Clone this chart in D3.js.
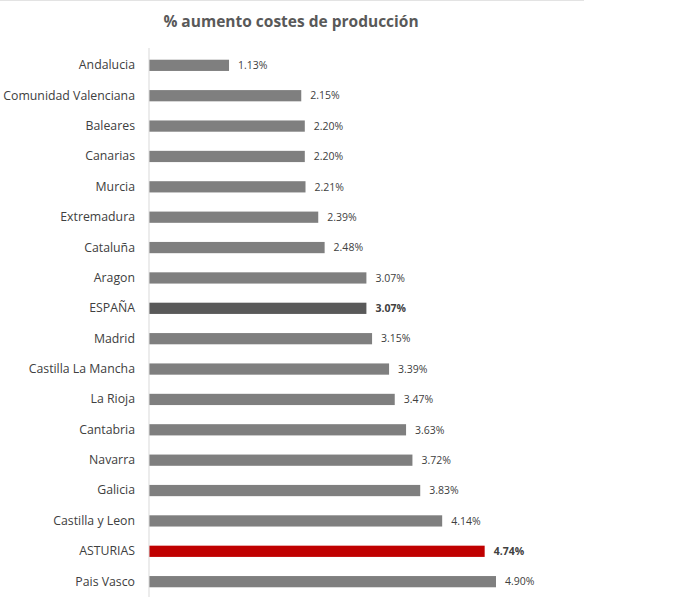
<!DOCTYPE html>
<html>
<head>
<meta charset="utf-8">
<script src="https://cdn.jsdelivr.net/npm/d3@7"></script>
<style>
  body { margin: 0; background: #fff; }
  text { font-family: "Open Sans", "Liberation Sans", sans-serif; }
</style>
</head>
<body>
<div id="chart"></div>
<script>
// regiones y % aumento
var regions = ["Andalucia", "Comunidad Valenciana", "Baleares", "Canarias", "Murcia",
  "Extremadura", "Cataluña", "Aragon", "ESPAÑA", "Madrid", "Castilla La Mancha",
  "La Rioja", "Cantabria", "Navarra", "Galicia", "Castilla y Leon", "ASTURIAS", "Pais Vasco"]
var values = [1.13, 2.15, 2.20, 2.20, 2.21, 2.39, 2.48, 3.07, 3.07, 3.15, 3.39,
  3.47, 3.63, 3.72, 3.83, 4.14, 4.74, 4.90]
var title = "% aumento costes de producción"

var width = 680, height = 607
var x0 = 149

var svg = d3.select("#chart").append("svg")
  .attr("width", width)
  .attr("height", height)

// faint frame line at the top
svg.append("line")
  .attr("x1", 0).attr("x2", 584)
  .attr("y1", 0.5).attr("y2", 0.5)
  .attr("stroke", "#e3e3e3")

svg.append("text")
  .attr("x", 291)
  .attr("y", 27)
  .attr("text-anchor", "middle")
  .attr("font-size", "15.5px")
  .attr("font-weight", "bold")
  .attr("fill", "#595959")
  .text(title)

var data = regions.map(function(r, i){ return {name: r, value: values[i]} })

var xScale = d3.scaleLinear()
  .domain([0, 4.90])
  .range([x0, 496])

var yScale = d3.scaleBand()
  .domain(regions)
  .range([50, 597])
  .paddingInner(0.63)
  .paddingOuter(0.32)

function barColor(d){
  if (d.name == "ASTURIAS") { return "#c00000" }
  else if (d.name == "ESPAÑA") { return "#595959" }
  else { return "#7f7f7f" }
}

svg.selectAll(".bar").data(data)
  .enter().append("rect")
  .attr("class", "bar")
  .attr("x", xScale(0))
  .attr("y", function(d){ return yScale(d.name) })
  .attr("width", function(d){ return xScale(d.value) - xScale(0) })
  .attr("height", yScale.bandwidth())
  .attr("fill", barColor)

// category axis
var yAxis = d3.axisLeft(yScale).tickSize(0).tickPadding(14)
var ga = svg.append("g")
  .attr("transform", "translate(" + x0 + ",0)")
  .call(yAxis)
ga.select(".domain").attr("stroke", "#d9d9d9").attr("d", "M0,48V597")
ga.selectAll("text")
  .attr("font-size", "12.3px")
  .attr("fill", "#404040")
  .style("font-family", "'Open Sans', sans-serif")

// value labels
svg.selectAll(".val").data(data)
  .enter().append("text")
  .attr("class", "val")
  .attr("x", function(d){ return xScale(d.value) + 9 })
  .attr("y", function(d){ return yScale(d.name) + yScale.bandwidth() / 2 })
  .attr("dy", "0.36em")
  .attr("font-size", "10.5px")
  .attr("fill", "#404040")
  .attr("font-weight", function(d){ return (d.name == "ESPAÑA" || d.name == "ASTURIAS") ? "bold" : "normal" })
  .text(function(d){ return d.value.toFixed(2) + "%" })
</script>
</body>
</html>
